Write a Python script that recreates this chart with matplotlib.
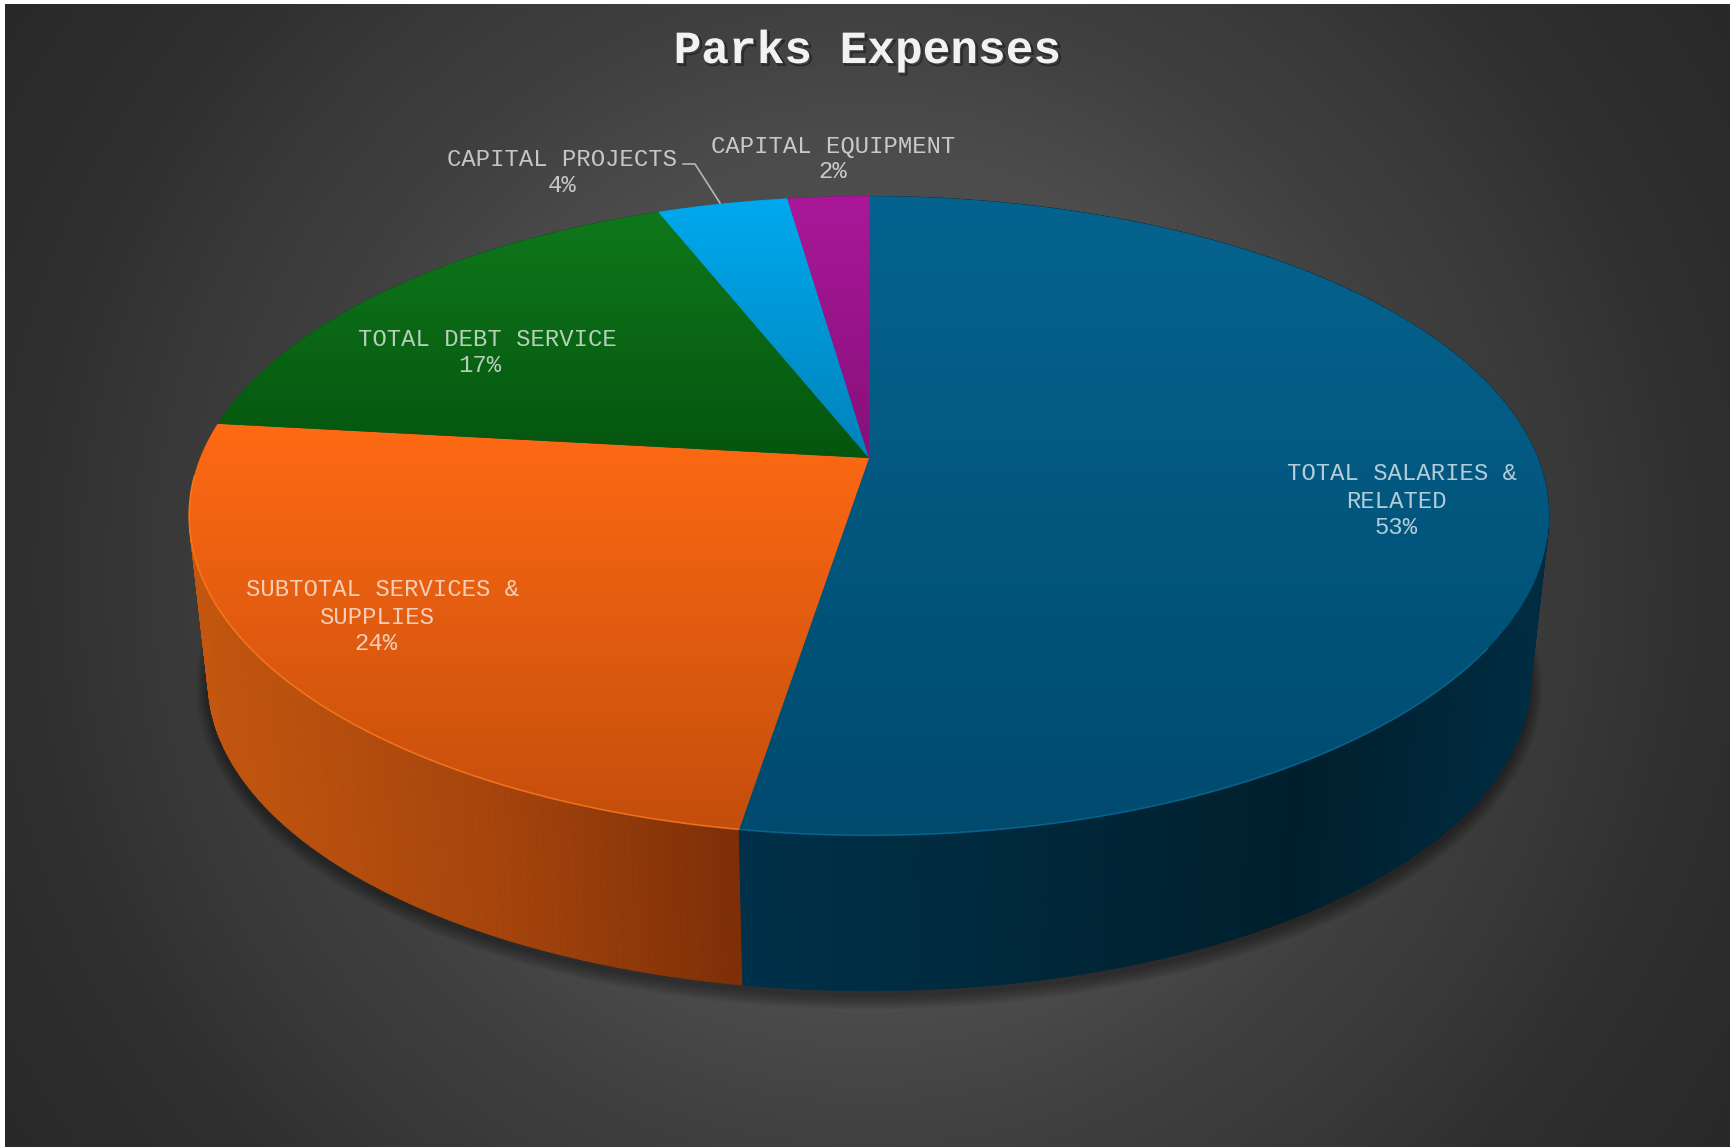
import numpy as np
import matplotlib
matplotlib.use("Agg")
import matplotlib.pyplot as plt
import matplotlib.patheffects as pe
from matplotlib.collections import PolyCollection
from matplotlib.colors import to_rgb
from matplotlib.patches import Polygon

# Budget shares in percent, clockwise from twelve o'clock
categories = ["TOTAL SALARIES & RELATED", "SUBTOTAL SERVICES & SUPPLIES",
              "TOTAL DEBT SERVICE", "CAPITAL PROJECTS", "CAPITAL EQUIPMENT"]
shares = [52.55, 24.25, 17.2, 3.7, 2.3]
title = "Parks Expenses"

# Top face: colour at the upper and lower end of each slice
top_light = ["#05648f", "#ff6a14", "#0f781b", "#00a9ee", "#aa1899"]
top_dark = ["#004a6e", "#c44e0c", "#05550f", "#0083ba", "#86107a"]
rim_colors = ["#0a6c9a", "#ff7d22", None, None, None]

# Side wall colour stops, as (x position, colour)
side_stops = [
    [(740, "#00304a"), (1000, "#00293c"), (1300, "#001f2c"), (1540, "#002c42")],
    [(200, "#c4570f"), (500, "#a5440c"), (745, "#7c2e08")],
    [(0, "#05550f"), (1730, "#05550f")],
    [(0, "#0083ba"), (1730, "#0083ba")],
    [(0, "#86107a"), (1730, "#86107a")],
]

# Backdrop grey level against distance from its centre
bg_dist = [0, 425, 475, 572, 716, 846, 1037]
bg_level = [86, 76, 72, 64, 56, 47, 41]

# Text lines of each label, with the centre of each line and its vertical centre
label_lines = [
    ["TOTAL SALARIES &", "RELATED", "{}"],
    ["SUBTOTAL SERVICES &", "SUPPLIES", "{}"],
    ["TOTAL DEBT SERVICE", "{}"],
    ["CAPITAL PROJECTS", "{}"],
    ["CAPITAL EQUIPMENT", "{}"],
]
label_x = [[1402, 1396, 1396], [383, 377, 376], [487, 480], [562, 562], [833, 833]]
label_y = [[473, 500, 527], [589, 617, 643], [339, 365], [159, 185], [145, 171]]

W, H = 1730, 1147
K = 0.181  # perspective strength of the disc
CX = 869.0  # horizontal position of the disc centre
TOP_Y = 458.0  # height of the disc centre on the top face


def project(theta, cx, cy, rx, ry):
    """Map clockwise angles on the disc to canvas positions."""
    px, py = np.sin(theta), np.cos(theta)
    w = 1 + K * py
    return cx + rx * px / w, cy - ry * py / w


def top_rim(theta):
    return project(theta, CX, TOP_Y, 668.6, 309)


def bottom_rim(theta):
    return project(theta, CX, 624.4, 650, 300)


fig = plt.figure(figsize=(W / 100, H / 100), dpi=100, facecolor="white")
ax = fig.add_axes([0, 0, 1, 1])
ax.set_axis_off()

# Radial backdrop
yy, xx = np.mgrid[4:H, 5:W]
grey = np.interp(np.hypot(xx - 866, yy - 575), bg_dist, bg_level) / 255
ax.imshow(np.dstack([grey] * 3), extent=(5, W, H, 4), aspect="auto",
          interpolation="bilinear", zorder=0)

# Soft shadow around the foot of the pie
full = np.linspace(0, 2 * np.pi, 361)
for grow in np.arange(12, 0, -1.5):
    sx, sy = project(full, CX, 624.4 + 4, 650 + grow, 300 + grow)
    ax.add_patch(Polygon(np.column_stack([sx, sy]), closed=True, fc="black",
                         ec="none", alpha=0.05, zorder=1))

edges = np.radians(np.concatenate([[0], np.cumsum(shares)]) * 3.6)

# Side wall, built from narrow strips painted back to front
quads, quad_colors, depth = [], [], []
for i in range(len(shares)):
    stops_x = [s[0] for s in side_stops[i]]
    stops_c = np.array([to_rgb(s[1]) for s in side_stops[i]])
    n = max(int(np.degrees(edges[i + 1] - edges[i])), 1) * 2
    ticks = np.linspace(edges[i], edges[i + 1], n + 1)
    for a, b in zip(ticks[:-1], ticks[1:]):
        tx, ty = top_rim(np.array([a, b]))
        bx, by = bottom_rim(np.array([b, a]))
        quads.append([(tx[0], ty[0]), (tx[1], ty[1]), (bx[0], by[0]), (bx[1], by[1])])
        mid = tx.mean()
        quad_colors.append([np.interp(mid, stops_x, stops_c[:, c]) for c in range(3)])
        depth.append(np.cos((a + b) / 2))
order = np.argsort(depth)[::-1]
ax.add_collection(PolyCollection([quads[j] for j in order],
                                 facecolors=[quad_colors[j] for j in order],
                                 edgecolors=[quad_colors[j] for j in order],
                                 linewidths=0.6, zorder=2))

# Top face, each slice with its own vertical gradient
for i in range(len(shares)):
    arc = np.linspace(edges[i], edges[i + 1], 200)
    rim_x, rim_y = top_rim(arc)
    pts = np.column_stack([np.r_[CX, rim_x], np.r_[TOP_Y, rim_y]])
    y0, y1 = pts[:, 1].min(), pts[:, 1].max()
    ramp = np.linspace(0, 1, 256)[:, None, None]
    grad = np.array(to_rgb(top_light[i]))[None, None, :] * (1 - ramp) \
        + np.array(to_rgb(top_dark[i]))[None, None, :] * ramp
    # A flat fill under the gradient closes the seams between slices
    ax.add_patch(Polygon(pts, closed=True, fc=grad[128, 0], ec="none", zorder=3))
    im = ax.imshow(grad, extent=(pts[:, 0].min(), pts[:, 0].max(), y1, y0),
                   aspect="auto", interpolation="bilinear", zorder=3.1)
    im.set_clip_path(Polygon(pts, closed=True, transform=ax.transData))
    if rim_colors[i]:
        front = arc[np.cos(arc) < -0.55] if i == 0 else arc[np.cos(arc) < -0.05]
        edge_x, edge_y = top_rim(front)
        ax.plot(edge_x, edge_y, color=rim_colors[i], lw=1.2, alpha=0.75, zorder=3.3,
                solid_capstyle="butt")

# Leader line for the narrow capital projects slice
ax.plot([683, 695, 720], [164, 164, 203], color="#b5b5b5", lw=1.2, zorder=4)

# Slice labels
mono = "Liberation Mono"
for i, lines in enumerate(label_lines):
    for text, x, y in zip(lines, label_x[i], label_y[i]):
        ax.text(x, y + 7.5, text.format(f"{shares[i]:.0f}%"), family=mono, fontsize=17.2,
                color="white", alpha=0.7, ha="center", va="baseline", zorder=5)

ax.text(867, 63, title, family=mono, fontweight="bold", fontsize=33.2, color="#f2f2f2",
        ha="center", va="baseline", zorder=5,
        path_effects=[pe.SimpleLineShadow(offset=(1.5, -1.5), shadow_color="black", alpha=0.4, linewidth=1.2),
                      pe.Normal()])

ax.set_xlim(0, W)
ax.set_ylim(H, 0)
fig.savefig("out.png", dpi=100, facecolor="white")
